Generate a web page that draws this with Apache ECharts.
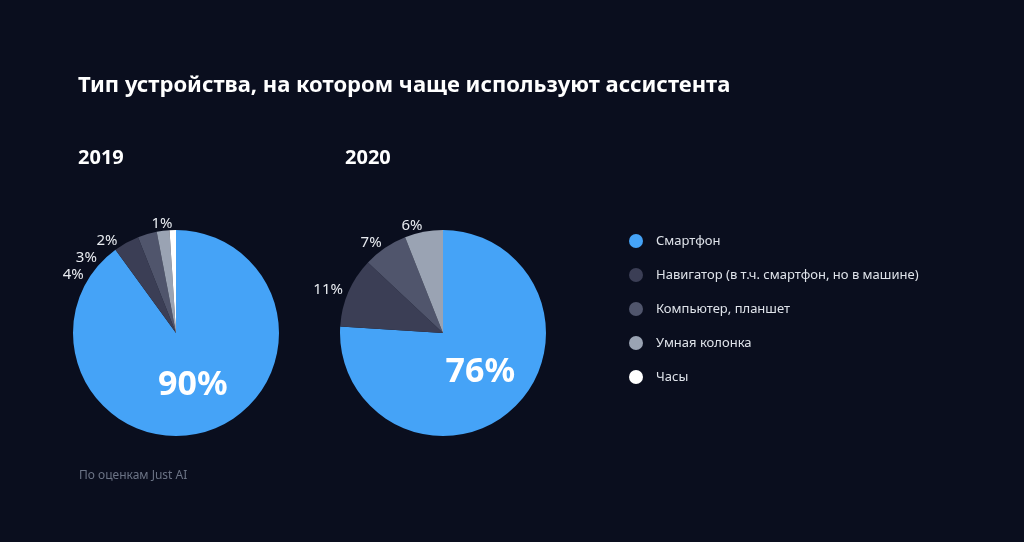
<!DOCTYPE html><html><head><meta charset="utf-8"><script src="https://cdn.jsdelivr.net/npm/echarts@6/dist/echarts.min.js"></script>
<style>html,body{margin:0;background:#0a0e1e}#c{width:1024px;height:542px}</style></head><body><div id="c"></div><script>
const categories=['Смартфон','Навигатор (в т.ч. смартфон, но в машине)','Компьютер, планшет','Умная колонка','Часы'];
const values2019=[90,4,3,2,1];
const values2020=[76,11,7,6,0];
const colors=['#45a3f7','#3b3e55','#50556c','#9aa3b3','#ffffff'];
const font='"Noto Sans", sans-serif';
function mk(vals,cx){
 return {type:'pie',center:[cx,333],radius:[0,103],startAngle:90,clockwise:true,silent:true,
  labelLine:{show:false},
  data:vals.map((v,i)=>({name:categories[i],value:v,itemStyle:{color:colors[i]},
   label: i===0?{show:true,position:'inside',formatter:'{c}%',fontSize:34,fontWeight:'bold',color:'#fff',fontFamily:font,offset:[0,0]}
   :{show:v>0,position:'outside',formatter:'{c}%',fontSize:15,color:'#e8ebf0',fontFamily:font,distanceToLabelLine:0},
   labelLine:{show:false,length:6,length2:0}}))};
}
const ch=echarts.init(document.getElementById('c'));
ch.setOption({backgroundColor:'#0a0e1e',animation:false,
 title:[{text:'Тип устройства, на котором чаще используют ассистента',left:73,top:70,textStyle:{color:'#fff',fontSize:22,fontWeight:'bold',fontFamily:font}},
 {text:'2019',left:73,top:143,textStyle:{color:'#fff',fontSize:20,fontWeight:'bold',fontFamily:font}},
 {text:'2020',left:340,top:143,textStyle:{color:'#fff',fontSize:20,fontWeight:'bold',fontFamily:font}},
 {text:'По оценкам Just AI',left:74,top:465,textStyle:{color:'#6b7385',fontSize:12,fontWeight:'normal',fontFamily:font}}],
 legend:{orient:'vertical',left:624,top:229,itemGap:20,icon:'circle',itemWidth:14,itemHeight:14,data:categories,
  textStyle:{color:'#dfe3ea',fontSize:13,fontFamily:font,padding:[0,0,0,8]}},
 series:[mk(values2019,176),mk(values2020,443)]});
</script></body></html>
